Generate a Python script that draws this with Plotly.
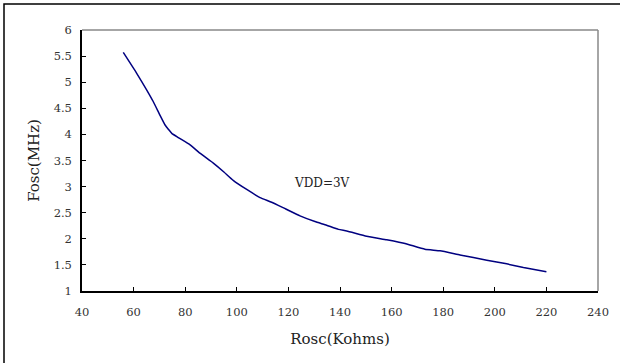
import plotly.graph_objects as go

rosc_kohms = [56, 61.2, 65.1, 67.6, 70.2, 72.2, 73.6, 74.8, 77.3, 81.9, 85.7, 90.9, 95, 98.6, 104, 109,
              113.5, 119, 124.5, 130.3, 134.8, 139.4, 142.6, 150.3, 158.1, 165.2, 172.9, 178.8,
              186.5, 196.9, 204.6, 211.1, 220]
fosc_mhz = [5.57, 5.17, 4.85, 4.63, 4.37, 4.18, 4.09, 4.02, 3.94, 3.80, 3.64, 3.45, 3.28, 3.12, 2.94, 2.79,
            2.70, 2.57, 2.44, 2.33, 2.26, 2.18, 2.15, 2.05, 1.98, 1.91, 1.80, 1.77,
            1.69, 1.59, 1.52, 1.45, 1.37]

x_ticks = [40, 60, 80, 100, 120, 140, 160, 180, 200, 220, 240]
y_ticks = [1, 1.5, 2, 2.5, 3, 3.5, 4, 4.5, 5, 5.5, 6]
y_tick_text = ["1", "1.5", "2", "2.5", "3", "3.5", "4", "4.5", "5", "5.5", "6"]

W, H = 620, 363
L, R, T, B = 82, 22, 30, 72
pw, ph = W - L - R, H - T - B

font_family = "DejaVu Serif, Liberation Serif, serif"

fig = go.Figure()
fig.add_trace(go.Scatter(x=rosc_kohms, y=fosc_mhz, mode="lines",
                         line=dict(color="#000080", width=1.5, shape="spline", smoothing=0.4),
                         showlegend=False, hoverinfo="skip"))

fig.update_layout(
    width=W, height=H,
    margin=dict(l=L, r=R, t=T, b=B, pad=0, autoexpand=False),
    paper_bgcolor="white", plot_bgcolor="white",
    font=dict(family=font_family, color="#333333", size=11.5),
    xaxis=dict(range=[40, 240], tickvals=x_ticks, ticks="inside", ticklen=4, tickcolor="black",
               showline=True, linecolor="black", linewidth=1.5, showgrid=False, zeroline=False,
               automargin=False,
               tickfont=dict(size=11.5, color="#333333"), ticklabelstandoff=9,
               title=dict(text="Rosc(Kohms)", font=dict(size=15, color="#222222"), standoff=16)),
    yaxis=dict(range=[1, 6], tickvals=y_ticks, ticktext=y_tick_text, ticks="inside", ticklen=4,
               tickcolor="black", showline=True, linecolor="black", linewidth=1.5, showgrid=False,
               zeroline=False, automargin=False, tickfont=dict(size=11.5, color="#333333"),
               ticklabelstandoff=6,
               title=dict(text="Fosc(MHz)", font=dict(size=15, color="#222222"), standoff=10)),
    annotations=[dict(x=133, y=3.07, xref="x", yref="y", text="VDD=3V", showarrow=False,
                      font=dict(size=12, color="#222222"))],
    shapes=[
        dict(type="line", xref="paper", yref="paper", x0=0, y0=1, x1=1, y1=1,
             line=dict(color="#888888", width=1.5)),
        dict(type="line", xref="paper", yref="paper", x0=1, y0=0, x1=1, y1=1,
             line=dict(color="#888888", width=1.5)),
        dict(type="rect", xref="paper", yref="paper",
             x0=(4 - L) / pw, x1=(W + 10 - L) / pw,
             y0=-(B + 10) / ph, y1=1 + (T - 4) / ph,
             line=dict(color="black", width=1.5)),
    ],
)

fig.write_html("out.html", config={"displayModeBar": False},
               post_script="document.body.style.margin='0';document.body.style.overflow='hidden';")
